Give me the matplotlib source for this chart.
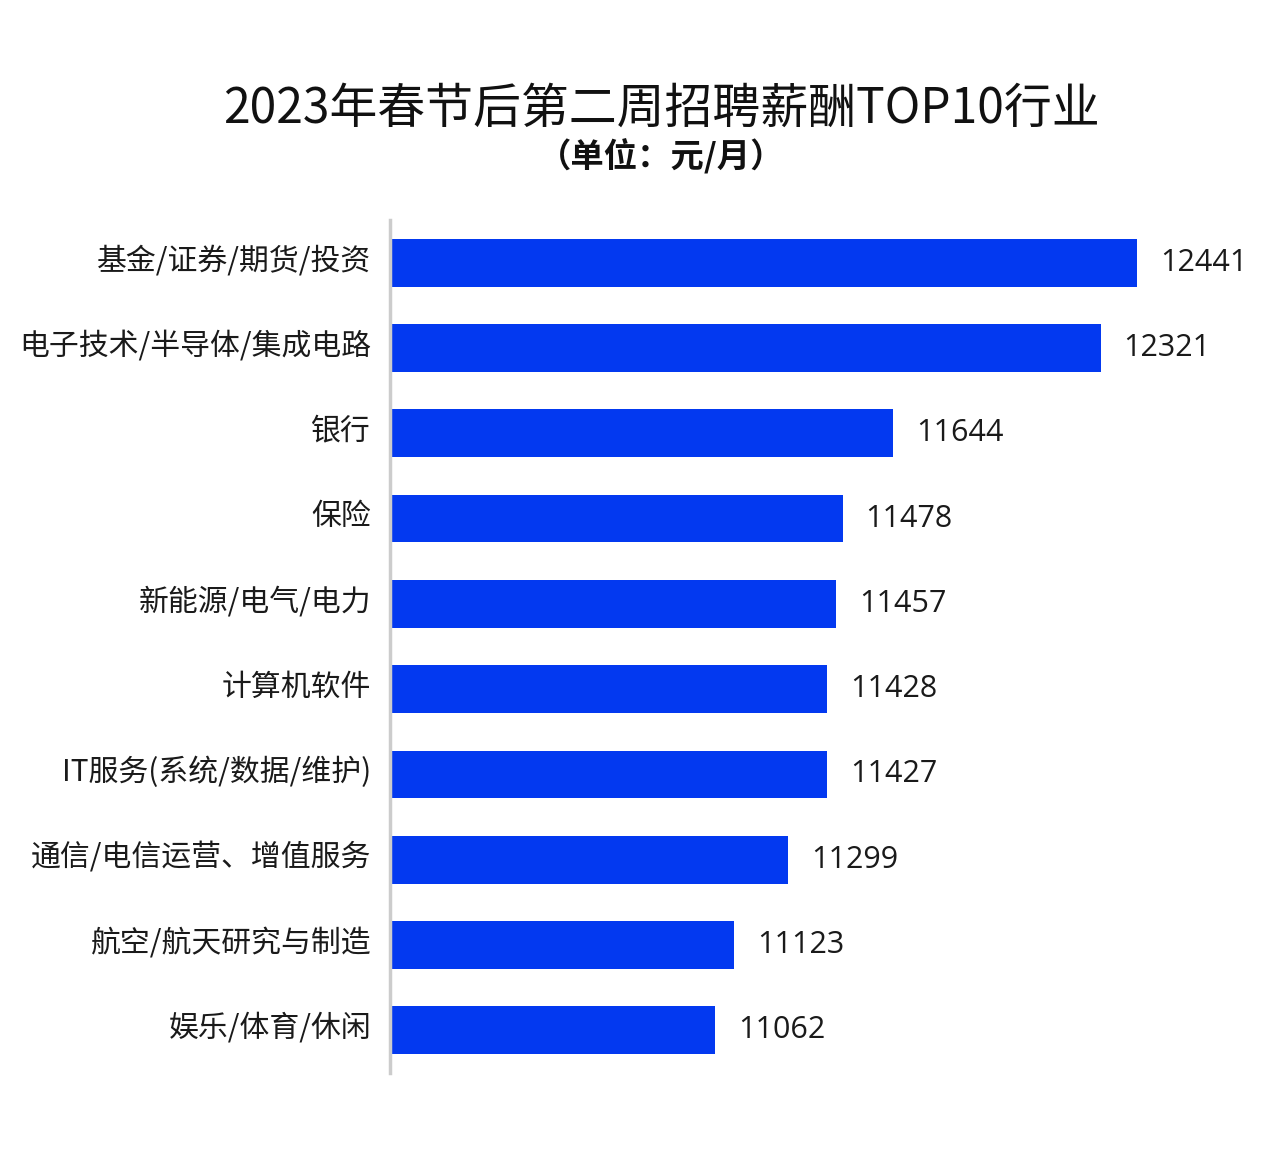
import matplotlib
matplotlib.use("Agg")
import matplotlib.pyplot as plt
import matplotlib.transforms as mtransforms

plt.rcParams['font.family'] = ['Noto Sans CJK SC', 'DejaVu Sans']

industries = ['基金/证券/期货/投资', '电子技术/半导体/集成电路', '银行', '保险',
              '新能源/电气/电力', '计算机软件', 'IT服务(系统/数据/维护)',
              '通信/电信运营、增值服务', '航空/航天研究与制造', '娱乐/体育/休闲']
salary = [12441, 12321, 11644, 11478, 11457, 11428, 11427, 11299, 11123, 11062]

bar_color = '#0339F0'

fig = plt.figure(figsize=(12.82, 11.7), dpi=100)
ax = fig.add_axes([0.3043, 0.0829, 0.597, 0.729])

pos = list(range(len(industries)))
ax.barh(pos, salary, height=0.56, color=bar_color, left=0)
ax.set_xlim(10000, 12500)
ax.set_ylim(len(industries) - 0.5, -0.5)

for p, v in zip(pos, salary):
    ax.text(v + 75, p, str(v), va='center', ha='left', fontsize=22,
            family=['Open Sans', 'DejaVu Sans'], color='#1a1a1a')

# category labels drawn as text so they can be nudged to the bar centre
lab_tr = ax.get_yaxis_transform() + mtransforms.ScaledTranslation(
    -19 / 100, 2 / 100, fig.dpi_scale_trans)
for p, name in zip(pos, industries):
    ax.text(0, p, name, transform=lab_tr, ha='right', va='center',
            fontsize=21.5, color='#1a1a1a')

ax.set_yticks([])
ax.set_xticks([])

for s in ['top', 'right', 'bottom']:
    ax.spines[s].set_visible(False)
ax.spines['left'].set_color('#cccccc')
ax.spines['left'].set_linewidth(2.5)

fig.text(0.516, 0.907, '2023年春节后第二周招聘薪酬TOP10行业', ha='center', va='center',
         fontsize=34.5, fontweight='medium', color='#111111')
fig.text(0.516, 0.866, '（单位：元/月）', ha='center', va='center',
         fontsize=24, fontweight='bold', color='#111111')

fig.savefig('out.png', dpi=100)
